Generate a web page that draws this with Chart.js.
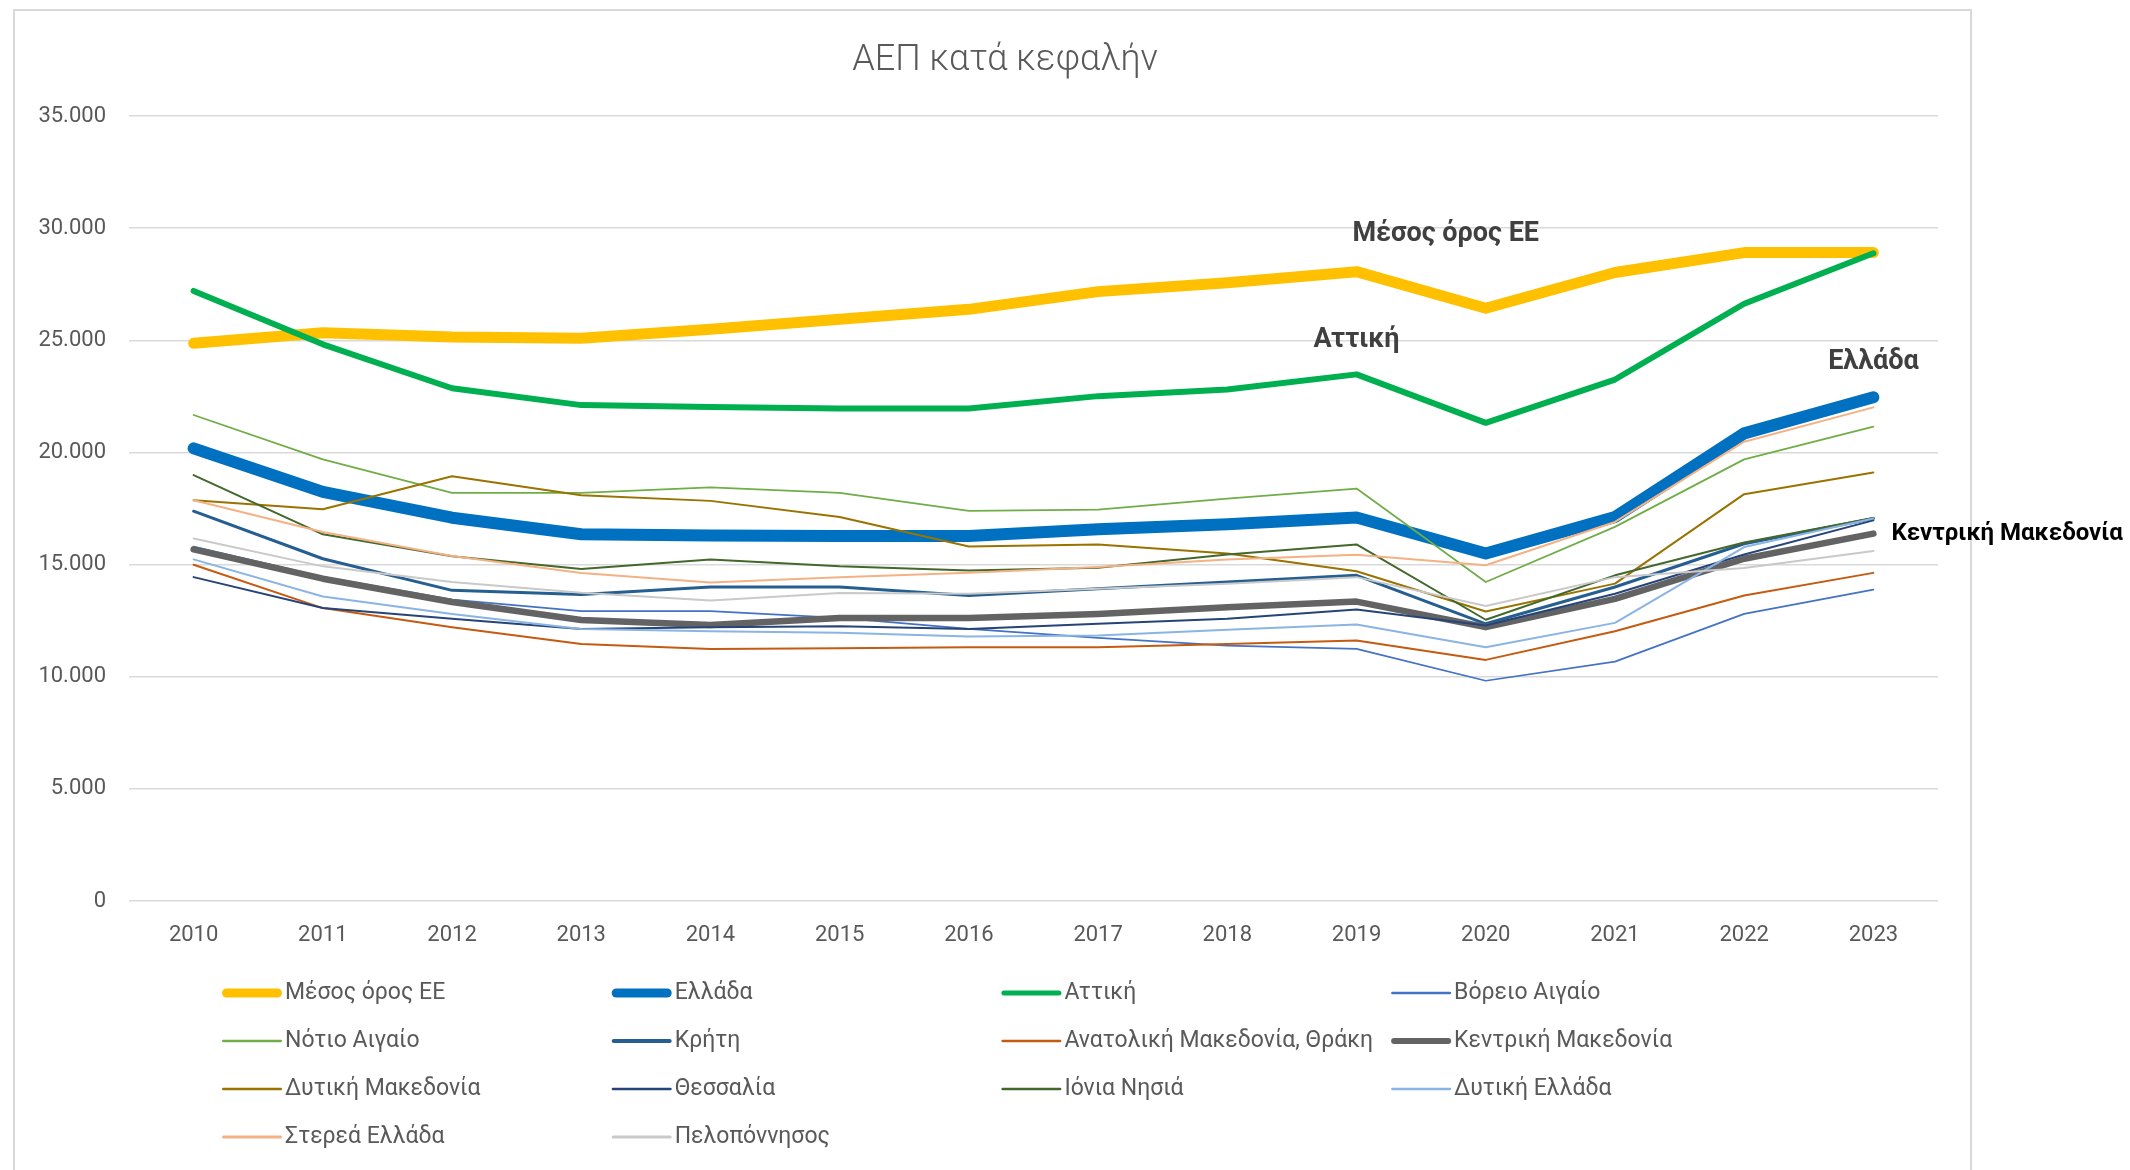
<!DOCTYPE html>
<html>
<head>
<meta charset="utf-8">
<script src="https://cdn.jsdelivr.net/npm/chart.js@4.4.1/dist/chart.umd.min.js"></script>
<style>
  html, body { margin: 0; padding: 0; background: #ffffff; }
  #c { display: block; }
</style>
</head>
<body>
<canvas id="c" width="2130" height="1170"></canvas>
<script>
const years = ['2010','2011','2012','2013','2014','2015','2016','2017','2018','2019','2020','2021','2022','2023'];
const yTicks = [0, 5000, 10000, 15000, 20000, 25000, 30000, 35000];

const euAverage        = [24870, 25340, 25150, 25090, 25490, 25940, 26380, 27170, 27570, 28060, 26430, 28020, 28910, 28910];
const greece           = [20180, 18240, 17090, 16350, 16300, 16270, 16270, 16570, 16800, 17100, 15490, 17120, 20850, 22460];
const attica           = [27200, 24820, 22860, 22110, 22020, 21960, 21960, 22510, 22810, 23480, 21320, 23250, 26630, 28880];
const northAegean      = [15800, 14450, 13440, 12920, 12920, 12620, 12130, 11730, 11390, 11240,  9820, 10670, 12800, 13880];
const southAegean      = [21670, 19690, 18200, 18200, 18440, 18200, 17390, 17450, 17940, 18390, 14220, 16680, 19690, 21150];
const crete            = [17380, 15260, 13850, 13670, 14000, 14000, 13620, 13920, 14220, 14520, 12360, 14000, 15930, 17050];
const eastMacThrace    = [14990, 13060, 12210, 11460, 11240, 11270, 11310, 11310, 11460, 11610, 10750, 12030, 13620, 14630];
const centralMacedonia = [15680, 14370, 13330, 12530, 12310, 12620, 12620, 12800, 13100, 13350, 12210, 13470, 15260, 16380];
const westMacedonia    = [17870, 17470, 18940, 18090, 17840, 17120, 15810, 15900, 15490, 14700, 12910, 14150, 18140, 19110];
const thessaly         = [14440, 13060, 12580, 12130, 12210, 12250, 12130, 12360, 12580, 13000, 12280, 13700, 15450, 16970];
const ionianIslands    = [18990, 16350, 15370, 14800, 15230, 14920, 14740, 14860, 15450, 15900, 12540, 14520, 15980, 17080];
const westGreece       = [15230, 13580, 12800, 12130, 12030, 11960, 11790, 11840, 12090, 12330, 11310, 12400, 15780, 17050];
const centralGreece    = [17870, 16450, 15380, 14620, 14200, 14440, 14640, 14890, 15230, 15440, 14970, 16900, 20480, 22010];
const peloponnese      = [16160, 14920, 14220, 13740, 13400, 13730, 13700, 13920, 14140, 14440, 13150, 14440, 14850, 15600];

const seriesNames = ['Μέσος όρος ΕΕ','Ελλάδα','Αττική','Βόρειο Αιγαίο','Νότιο Αιγαίο','Κρήτη','Ανατολική Μακεδονία, Θράκη','Κεντρική Μακεδονία','Δυτική Μακεδονία','Θεσσαλία','Ιόνια Νησιά','Δυτική Ελλάδα','Στερεά Ελλάδα','Πελοπόννησος'];
const seriesValues = [euAverage, greece, attica, northAegean, southAegean, crete, eastMacThrace, centralMacedonia, westMacedonia, thessaly, ionianIslands, westGreece, centralGreece, peloponnese];
const seriesColors = ['#FFC000','#0070C0','#00B050','#4472C4','#70AD47','#255E91','#C55A11','#636363','#997300','#264478','#43682B','#8AB4E3','#F4B183','#C9C9C9'];
const seriesWidths = [11, 12, 6, 1.75, 1.75, 3, 2, 6.5, 2, 2, 2, 2, 2, 2];
const legendWidths = [9, 9, 5, 2.5, 2.5, 4, 2.5, 6, 2.5, 2.5, 2.5, 2.5, 3, 3];

const titleText = 'ΑΕΠ κατά κεφαλήν';
const annotations = [
  { text: 'Μέσος όρος ΕΕ', xIndex: 9.69, yValue: 29750, align: 'center', color: '#404040', size: 27 },
  { text: 'Αττική', xIndex: 9.0, yValue: 25000, align: 'center', color: '#404040', size: 27 },
  { text: 'Ελλάδα', xIndex: 13.0, yValue: 24000, align: 'center', color: '#404040', size: 27 },
  { text: 'Κεντρική Μακεδονία', xIndex: 13.0, yValue: 16380, align: 'left', color: '#000000', size: 24, dx: 18 }
];

const FONT = "Roboto, 'Open Sans', 'Noto Sans', sans-serif";
const N = seriesNames.length;

const datasets = seriesNames.map((name, i) => ({
  label: name,
  data: seriesValues[i],
  borderColor: seriesColors[i],
  backgroundColor: seriesColors[i],
  borderWidth: seriesWidths[i],
  borderCapStyle: 'round',
  borderJoinStyle: 'round',
  pointRadius: 0,
  pointHoverRadius: 0,
  tension: 0,
  fill: false,
  order: N - i
}));

const decorPlugin = {
  id: 'decor',
  beforeDraw(chart) {
    const ctx = chart.ctx;
    ctx.save();
    ctx.fillStyle = '#ffffff';
    ctx.fillRect(0, 0, chart.width, chart.height);
    ctx.strokeStyle = '#D9D9D9';
    ctx.lineWidth = 2;
    ctx.strokeRect(14, 10, 1957, 1200);
    ctx.restore();
  },
  afterDraw(chart) {
    const ctx = chart.ctx;
    const xs = chart.scales.x, ys = chart.scales.y;
    ctx.save();
    // title
    ctx.fillStyle = '#595959';
    ctx.font = "300 36px " + FONT;
    ctx.textAlign = 'center';
    ctx.textBaseline = 'middle';
    ctx.fillText(titleText, 1005, 61);
    // annotations
    annotations.forEach(a => {
      ctx.font = "bold " + a.size + "px " + FONT;
      ctx.fillStyle = a.color;
      ctx.textAlign = a.align;
      ctx.textBaseline = 'middle';
      ctx.fillText(a.text, xs.getPixelForValue(a.xIndex) + (a.dx || 0), ys.getPixelForValue(a.yValue));
    });
    // legend (4 columns)
    const colX0 = 222, colStep = 389.7, rowY0 = 993, rowStep = 48, sampleLen = 60;
    chart.data.datasets.forEach((ds, i) => {
      const col = i % 4, row = Math.floor(i / 4);
      const x = colX0 + col * colStep, y = rowY0 + row * rowStep;
      ctx.strokeStyle = ds.borderColor;
      ctx.lineWidth = legendWidths[i];
      ctx.lineCap = 'round';
      ctx.beginPath();
      ctx.moveTo(x + legendWidths[i] / 2, y);
      ctx.lineTo(x + sampleLen - legendWidths[i] / 2, y);
      ctx.stroke();
      ctx.font = "23px " + FONT;
      ctx.fillStyle = '#595959';
      ctx.textAlign = 'left';
      ctx.textBaseline = 'middle';
      ctx.fillText(ds.label, x + 63, y);
    });
    ctx.restore();
  }
};

new Chart(document.getElementById('c'), {
  type: 'line',
  data: { labels: years, datasets },
  options: {
    responsive: false,
    animation: false,
    events: [],
    layout: { padding: { top: 116, left: 0, right: 192, bottom: 0 } },
    plugins: { legend: { display: false }, title: { display: false }, tooltip: { enabled: false } },
    scales: {
      x: {
        offset: true,
        grid: { display: false, drawTicks: false },
        border: { display: false },
        ticks: { color: '#595959', font: { family: FONT, size: 22 }, padding: 21, maxRotation: 0 },
        afterFit(s) { s.height = 269; }
      },
      y: {
        min: 0, max: 35000,
        afterBuildTicks(s) { s.ticks = yTicks.map(v => ({ value: v })); },
        grid: { color: '#D9D9D9', lineWidth: 1.5, drawTicks: false },
        border: { display: false },
        ticks: {
          color: '#595959', font: { family: FONT, size: 22 }, padding: 23,
          callback: v => v === 0 ? '0' : v.toLocaleString('de-DE')
        },
        afterFit(s) { s.width = 129; }
      }
    }
  },
  plugins: [decorPlugin]
});
</script>
</body>
</html>
